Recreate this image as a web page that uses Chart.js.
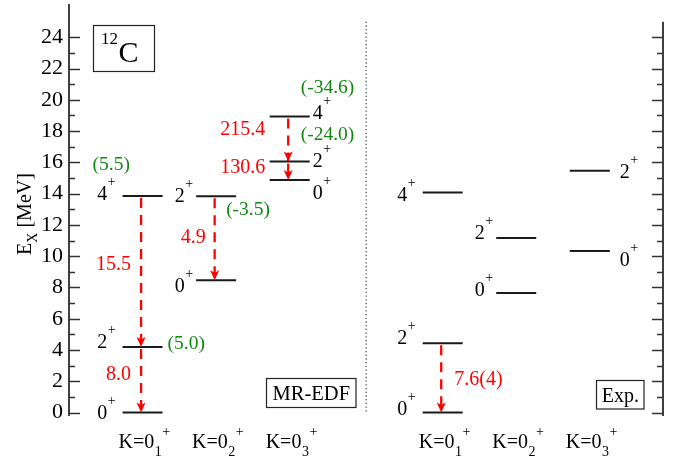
<!DOCTYPE html>
<html lang="en"><head><meta charset="utf-8">
<script src="https://cdn.jsdelivr.net/npm/chart.js@4/dist/chart.umd.min.js"></script>
</head><body style="margin:0">
<canvas id="c" width="683" height="461"></canvas>
<script>
// ---------------- data ----------------
const bandIndex = ['1', '2', '3'];                 // K = 0_n^+
const mrColumns = [1, 2, 3];
const expColumns = [5.08, 6.08, 7.08];
const dividerX = 4.04;
const mrEnergies = [[0, 4.2, 13.85], [8.46, 13.83], [14.87, 16.05, 18.93]];
const mrSpins    = [[0, 2, 4], [0, 2], [0, 2, 4]];
const expEnergies = [[0, 4.44, 14.08], [7.65, 11.16], [10.33, 15.47]];
const expSpins    = [[0, 2, 4], [0, 2], [0, 2]];
// B(E2) transitions: [band, from level, to level, value]
const mrBE2  = [[0, 2, 1, '15.5'], [0, 1, 0, '8.0'], [1, 1, 0, '4.9'], [2, 2, 1, '215.4'], [2, 1, 0, '130.6']];
const expBE2 = [[0, 1, 0, '7.6(4)']];
// spectroscopic quadrupole moments: [band, level, value]
const mrQ = [[0, 2, '(5.5)'], [0, 1, '(5.0)'], [1, 1, '(-3.5)'], [2, 2, '(-34.6)'], [2, 1, '(-24.0)']];
const yTicks = [0, 2, 4, 6, 8, 10, 12, 14, 16, 18, 20, 22, 24];
const yMinorTicks = [1, 3, 5, 7, 9, 11, 13, 15, 17, 19, 21, 23];
const yAxisTop = 25;

// ---------------- layout (styles, pixel offsets) ----------------
const FAM = '"Liberation Serif", Tinos, "Times New Roman", Times, "Nimbus Roman", "DejaVu Serif", serif';
const HALF = 0.272;            // half width of a level in x units
const ARROW_SHIFT = -0.02;
const mrSpinLayout = [
  {side: 'left',  lv: [[7, 6.5], [7, 1.5], [7, 4]]},
  {side: 'left',  lv: [[3, 12], [3, 6]]},
  {side: 'right', lv: [[3, 19], [3, 5], [3, 2.5]]}
];
const expSpinLayout = [
  {side: 'left',  lv: [[7, 2], [7, 1], [7, 9]]},
  {side: 'left',  lv: [[3, 3], [3, 1]]},
  {side: 'right', lv: [[10, 15], [10, 7]]}
];
const mrBE2Layout  = [[-10, -7, 'right'], [-10, -5, 'right'], [-9, -1, 'right'], [-23, -9, 'right'], [-23, -3, 'right']];
const expBE2Layout = [[13, 2, 'left']];
const mrQLayout = [['left', -30, -31], ['right', 5, -3], ['right', -10, 14], ['right', -9, -29], ['right', -9, -27]];

// warm up the serif font on the chart canvas itself
(function () {
  document.fonts && document.fonts.check && document.fonts.check('20px "Liberation Serif"');
  const w = document.getElementById('c').getContext('2d');
  w.font = '20px ' + FAM; w.fillStyle = '#fff'; w.fillText('K=0 MR-EDF 0123456789', 0, 20);
})();

// ---------------- datasets ----------------
const datasets = [];
function addLevels(cols, energies) {
  energies.forEach((band, b) => band.forEach(e => {
    datasets.push({data: [{x: cols[b] - HALF, y: e}, {x: cols[b] + HALF, y: e}],
      showLine: true, pointRadius: 0, borderColor: '#1a1a1a', borderWidth: 2});
  }));
}
addLevels(mrColumns, mrEnergies);
addLevels(expColumns, expEnergies);
function addArrows(cols, energies, trans) {
  trans.forEach(([b, f, t]) => {
    const x = cols[b] + ARROW_SHIFT;
    datasets.push({data: [{x, y: energies[b][f]}, {x, y: energies[b][t]}], arrow: true,
      showLine: true, pointRadius: 0, borderColor: '#ff0000', borderWidth: 2.3,
      borderDash: [10, 7], borderDashOffset: -2});
  });
}
addArrows(mrColumns, mrEnergies, mrBE2);
addArrows(expColumns, expEnergies, expBE2);
datasets.push({data: [{x: dividerX, y: yAxisTop}, {x: dividerX, y: 0}], showLine: true, pointRadius: 0,
  borderColor: '#444', borderWidth: 1.2, borderDash: [1.3, 2.4]});

// ---------------- drawing helpers ----------------
function setFont(ctx, size) { ctx.font = size + 'px ' + FAM; }
function txt(ctx, s, x, y, size, color, align, base) {
  setFont(ctx, size);
  ctx.fillStyle = color;
  ctx.textAlign = align || 'left';
  ctx.textBaseline = base || 'alphabetic';
  ctx.fillText(s, x, y);
}
function spinLabel(ctx, spin, ax, by, side) {
  setFont(ctx, 20);
  const dw = ctx.measureText(String(spin)).width;
  setFont(ctx, 14);
  const pw = ctx.measureText('+').width;
  const x0 = side === 'left' ? ax - (dw + pw + 0.5) : ax;
  txt(ctx, String(spin), x0, by, 20, '#000');
  txt(ctx, '+', x0 + dw + 0.5, by - 14, 14, '#000');
}
const deco = {
  id: 'deco',
  afterDraw(chart) {
    const ctx = chart.ctx, xs = chart.scales.x, ys = chart.scales.y, ca = chart.chartArea;
    const X = v => xs.getPixelForValue(v), Y = v => ys.getPixelForValue(v);
    ctx.save();
    // axes and inward ticks
    ctx.strokeStyle = '#000'; ctx.lineWidth = 1.5;
    ctx.beginPath(); ctx.moveTo(ca.left, ca.top); ctx.lineTo(ca.left, ca.bottom); ctx.stroke();
    ctx.beginPath(); ctx.moveTo(ca.right, Y(yAxisTop)); ctx.lineTo(ca.right, ca.bottom); ctx.stroke();
    ctx.strokeStyle = '#333'; ctx.lineWidth = 1.4;
    ys.ticks.forEach(t => { const y = Math.round(Y(t.value)) + 0.5;
      ctx.beginPath(); ctx.moveTo(ca.left, y); ctx.lineTo(ca.left + 11, y);
      ctx.moveTo(ca.right, y); ctx.lineTo(ca.right - 11, y); ctx.stroke(); });
    yMinorTicks.forEach(v => { const y = Math.round(Y(v)) + 0.5;
      ctx.beginPath(); ctx.moveTo(ca.left, y); ctx.lineTo(ca.left + 6, y);
      ctx.moveTo(ca.right, y); ctx.lineTo(ca.right - 6, y); ctx.stroke(); });
    // tick labels from the y scale
    ys.ticks.forEach(t => txt(ctx, String(t.value), ca.left - 6, Y(t.value), 22, '#000', 'right', 'middle'));
    // arrow heads
    chart.data.datasets.forEach(ds => {
      if (!ds.arrow) return;
      const p = ds.data[1];
      const x = X(p.x), y = Y(p.y);
      ctx.fillStyle = '#ff0000';
      ctx.beginPath(); ctx.moveTo(x, y); ctx.lineTo(x - 4.5, y - 10); ctx.lineTo(x, y - 7.5); ctx.lineTo(x + 4.5, y - 10); ctx.closePath(); ctx.fill();
    });
    // spin labels
    function spins(cols, energies, sp, lay) {
      energies.forEach((band, b) => band.forEach((e, i) => {
        const [gap, dy] = lay[b].lv[i];
        const ax = lay[b].side === 'left' ? X(cols[b] - HALF) - gap : X(cols[b] + HALF) + gap;
        spinLabel(ctx, sp[b][i], ax, Y(e) + dy, lay[b].side);
      }));
    }
    spins(mrColumns, mrEnergies, mrSpins, mrSpinLayout);
    spins(expColumns, expEnergies, expSpins, expSpinLayout);
    // B(E2) values
    function be2(cols, energies, trans, lay) {
      trans.forEach(([b, f, t, val], k) => {
        const [dx, dy, al] = lay[k];
        const x = X(cols[b] + ARROW_SHIFT) + dx;
        const y = (Y(energies[b][f]) + Y(energies[b][t])) / 2 + dy;
        txt(ctx, val, x, y, 20, '#ff0000', al, 'middle');
      });
    }
    be2(mrColumns, mrEnergies, mrBE2, mrBE2Layout);
    be2(expColumns, expEnergies, expBE2, expBE2Layout);
    // quadrupole moments
    mrQ.forEach(([b, i, val], k) => {
      const [edge, dx, dy] = mrQLayout[k];
      const ex = edge === 'left' ? X(mrColumns[b] - HALF) : X(mrColumns[b] + HALF);
      txt(ctx, val, ex + dx, Y(mrEnergies[b][i]) + dy, 19.5, '#118811', 'left', 'middle');
    });
    // band labels
    [mrColumns, expColumns].forEach(cols => cols.forEach((c, b) => {
      const x0 = X(c) - 24, base = 448;
      txt(ctx, 'K=0', x0, base, 20, '#000');
      setFont(ctx, 20); const w = ctx.measureText('K=0').width;
      txt(ctx, bandIndex[b], x0 + w + 0.5, base + 8, 14, '#000');
      setFont(ctx, 14); const sw = ctx.measureText(bandIndex[b]).width;
      txt(ctx, '+', x0 + w + sw + 1, base - 12.5, 14, '#000');
    }));
    // y title
    ctx.save();
    ctx.translate(31, 214); ctx.rotate(-Math.PI / 2);
    setFont(ctx, 20); const wE = ctx.measureText('E').width, wM = ctx.measureText(' [MeV]').width;
    setFont(ctx, 14); const wX = ctx.measureText('X').width;
    let sx = -(wE + wX + wM) / 2;
    txt(ctx, 'E', sx, 0, 20, '#000'); sx += wE;
    txt(ctx, 'X', sx, 6, 14, '#000'); sx += wX;
    txt(ctx, ' [MeV]', sx, 0, 20, '#000');
    ctx.restore();
    // boxes
    ctx.strokeStyle = '#222'; ctx.lineWidth = 1.2;
    ctx.strokeRect(93.5, 25.5, 61, 46);
    txt(ctx, '12', 101, 44, 17, '#000');
    txt(ctx, 'C', 118.5, 62, 30, '#000');
    ctx.strokeRect(266.5, 378.5, 89.5, 29);
    txt(ctx, 'MR-EDF', 311.3, 400, 20.5, '#000', 'center');
    ctx.strokeRect(596.5, 380.5, 47.5, 28.5);
    txt(ctx, 'Exp.', 620.3, 401.5, 20, '#000', 'center');
    ctx.restore();
  }
};

new Chart(document.getElementById('c'), {
  type: 'scatter',
  data: {datasets},
  options: {
    responsive: false, animation: false,
    layout: {padding: {top: 4, right: 20, bottom: 45, left: 0}},
    plugins: {legend: {display: false}, tooltip: {enabled: false}},
    scales: {
      x: {type: 'linear', min: 0, max: 8.075, display: false},
      y: {type: 'linear', min: -0.22, max: 26.13,
        afterFit: s => { s.width = 69; },
        afterBuildTicks: s => { s.ticks = yTicks.map(v => ({value: v})); },
        grid: {display: false, drawTicks: false},
        border: {display: false},
        ticks: {display: false}
      }
    }
  },
  plugins: [deco]
});
</script>
</body></html>
